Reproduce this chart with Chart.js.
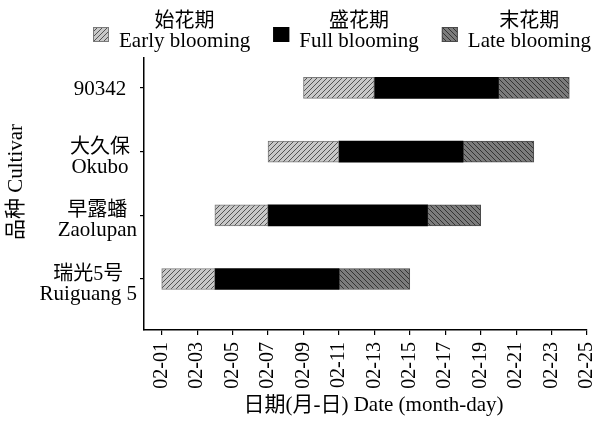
<!DOCTYPE html>
<html>
<head>
<meta charset="utf-8">
<script src="https://cdn.jsdelivr.net/npm/chart.js@4.4.0/dist/chart.umd.min.js"></script>
<style>
  html, body { margin: 0; padding: 0; background: #fff; }
  #wrap { width: 600px; height: 425px; }
</style>
</head>
<body>
<div id="wrap"><canvas id="chart" width="600" height="425"></canvas></div>
<script>
// Cultivars, top to bottom, with their row positions on the y scale
const cultivarZh = ['', '大久保', '早露蟠', '瑞光5号'];
const cultivarEn = ['90342', 'Okubo', 'Zaolupan', 'Ruiguang 5'];
const cultivarPos = [4, 3, 2, 1];

// Blooming stages, as day of February
const earlyStart = [9, 7, 4, 1];
const fullStart  = [13, 11, 7, 4];
const lateStart  = [20, 18, 16, 11];
const lateEnd    = [24, 22, 19, 15];

// Date axis ticks
const tickDays   = [1, 3, 5, 7, 9, 11, 13, 15, 17, 19, 21, 23, 25];
const tickLabels = ['02-01', '02-03', '02-05', '02-07', '02-09', '02-11', '02-13',
                    '02-15', '02-17', '02-19', '02-21', '02-23', '02-25'];

// Legend entries
const stageZh = ['始花期', '盛花期', '末花期'];
const stageEn = ['Early blooming', 'Full blooming', 'Late blooming'];

const SERIF = '"Liberation Serif", "Noto Sans CJK SC", serif';
const FS = 21;
const FS_ZH = 20;

function hatch(bg, line, dir) {
  const s = 5;
  const c = document.createElement('canvas');
  c.width = s; c.height = s;
  const g = c.getContext('2d');
  g.fillStyle = bg;
  g.fillRect(0, 0, s, s);
  g.strokeStyle = line;
  g.lineWidth = 0.9;
  g.beginPath();
  if (dir === '/') {
    g.moveTo(0, s); g.lineTo(s, 0);
    g.moveTo(-1, 1); g.lineTo(1, -1);
    g.moveTo(s - 1, s + 1); g.lineTo(s + 1, s - 1);
  } else {
    g.moveTo(0, 0); g.lineTo(s, s);
    g.moveTo(s - 1, -1); g.lineTo(s + 1, 1);
    g.moveTo(-1, s - 1); g.lineTo(1, s + 1);
  }
  g.stroke();
  return g.createPattern(c, 'repeat');
}

const stageFill = [hatch('#c8c8c8', '#454545', '/'), '#000000', hatch('#7c7c7c', '#2a2a2a', '\\')];
const stageBorder = ['#7a7a7a', '#000000', '#4a4a4a'];
const stageStart = [earlyStart, fullStart, lateStart];
const stageEnd = [fullStart, lateStart, lateEnd];

const datasets = stageEn.map((name, k) => ({
  label: name,
  data: cultivarPos.map((y, i) => ({ y: y, x: [stageStart[k][i], stageEnd[k][i]] })),
  backgroundColor: stageFill[k],
  borderColor: stageBorder[k],
  borderWidth: k === 1 ? 0 : 1,
  borderSkipped: false,
  barThickness: 21,
  grouped: false
}));

const zhFont = FS_ZH + 'px ' + SERIF;
const enFont = FS + 'px ' + SERIF;

// Cultivar labels, legend and axis titles
const textPlugin = {
  id: 'texts',
  afterDraw(chart) {
    const ctx = chart.ctx;
    const y = chart.scales.y;
    const area = chart.chartArea;
    ctx.save();
    ctx.fillStyle = '#000';
    ctx.textAlign = 'center';
    ctx.textBaseline = 'alphabetic';

    // cultivar names beside the rows
    cultivarPos.forEach((v, i) => {
      const py = y.getPixelForValue(v);
      ctx.font = enFont;
      const wEn = ctx.measureText(cultivarEn[i]).width;
      ctx.font = zhFont;
      const wZh = cultivarZh[i] ? ctx.measureText(cultivarZh[i]).width : 0;
      const w = Math.max(wEn, wZh);
      const cx = Math.min(area.left - 44, area.left - 7 - w / 2);
      if (cultivarZh[i]) {
        ctx.font = zhFont;
        ctx.fillText(cultivarZh[i], cx, py + 1);
        ctx.font = enFont;
        ctx.fillText(cultivarEn[i], cx, py + 21);
      } else {
        ctx.font = enFont;
        ctx.fillText(cultivarEn[i], cx, py + 7);
      }
    });

    // legend
    let x = 93;
    stageEn.forEach((name, k) => {
      ctx.fillStyle = stageFill[k];
      ctx.fillRect(x, 27, 16, 15);
      ctx.strokeStyle = stageBorder[k];
      ctx.lineWidth = 1;
      ctx.strokeRect(x + 0.5, 27.5, 15, 14);
      x += 16 + 10;
      ctx.fillStyle = '#000';
      ctx.font = enFont;
      const w = ctx.measureText(name).width;
      ctx.fillText(name, x + w / 2, 47);
      ctx.font = zhFont;
      ctx.fillText(stageZh[k], x + w / 2, 27);
      x += w + 23;
    });

    // y axis title
    ctx.save();
    ctx.font = enFont;
    ctx.translate(16, (area.top + area.bottom) / 2 - 12);
    ctx.rotate(-Math.PI / 2);
    ctx.textBaseline = 'middle';
    ctx.fillText('品种 Cultivar', 0, 0);
    ctx.restore();

    // x axis title
    ctx.font = enFont;
    ctx.textBaseline = 'middle';
    ctx.fillText('日期(月-日) Date (month-day)', (area.left + area.right) / 2 + 8, 405);
    ctx.restore();
  }
};

new Chart(document.getElementById('chart'), {
  type: 'bar',
  data: { datasets: datasets },
  options: {
    indexAxis: 'y',
    responsive: false,
    devicePixelRatio: 1,
    animation: false,
    layout: { padding: { top: 58, right: 13, left: 0, bottom: 0 } },
    plugins: { legend: { display: false }, tooltip: { enabled: false } },
    scales: {
      x: {
        type: 'linear',
        position: 'bottom',
        min: 0,
        max: 25,
        offset: false,
        afterBuildTicks: s => { s.ticks = tickDays.map(v => ({ value: v })); },
        afterFit: s => { s.height = 95; s.paddingLeft = 0; s.paddingRight = 0; },
        ticks: {
          autoSkip: false,
          minRotation: 90,
          maxRotation: 90,
          padding: 7,
          color: '#000',
          font: { family: SERIF, size: 20 },
          callback: v => tickLabels[tickDays.indexOf(v)]
        },
        grid: { offset: false, drawOnChartArea: false, drawTicks: true, tickLength: 5, color: '#000', lineWidth: 1.2 },
        border: { display: true, color: '#000', width: 1.5 }
      },
      y: {
        type: 'linear',
        position: 'left',
        min: 0.2,
        max: 4.47,
        offset: false,
        afterBuildTicks: s => { s.ticks = cultivarPos.map(v => ({ value: v })); },
        afterFit: s => { s.width = 144; s.paddingTop = 0; s.paddingBottom = 0; },
        ticks: { display: false },
        grid: { offset: false, drawOnChartArea: false, drawTicks: true, tickLength: 4, color: '#000', lineWidth: 1.2 },
        border: { display: true, color: '#000', width: 1.5 }
      }
    }
  },
  plugins: [textPlugin]
});
</script>
</body>
</html>
